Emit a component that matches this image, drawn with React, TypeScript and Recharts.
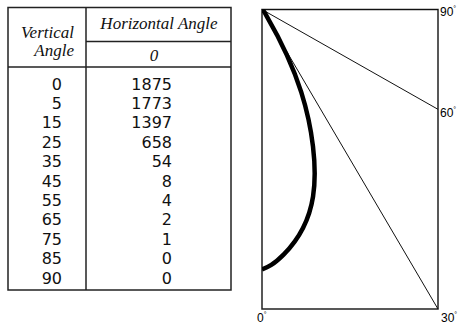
import React from 'react';
import { LineChart, Line, XAxis, YAxis, ReferenceArea, ReferenceLine, ReferenceDot } from 'recharts';

// ---- data ----
const verticalAngles = [0, 5, 15, 25, 35, 45, 55, 65, 75, 85, 90];
const candela = [1875, 1773, 1397, 658, 54, 8, 4, 2, 1, 0, 0];
const horizontalAngles = [0];
const guideAngles = [30, 60, 90];
const cornerLabels = ['0', '30', '60', '90'];

const YMAX = 2160;
const XMAX = YMAX * Math.tan((30 * Math.PI) / 180);

const rad = (d: number) => (d * Math.PI) / 180;

const curve = verticalAngles.map((a, i) => ({
  x: candela[i] * Math.sin(rad(a)),
  y: candela[i] * Math.cos(rad(a)),
}));

const guideEnd = (a: number) => {
  const s = Math.sin(rad(a));
  const c = Math.cos(rad(a));
  const t = Math.min(s > 0 ? XMAX / s : Infinity, c > 1e-9 ? YMAX / c : Infinity);
  return { x: s * t, y: c * t };
};

const SANS = '"DejaVu Sans", sans-serif';
const LSANS = '"Liberation Sans", Arial, sans-serif';
const SERIF = '"Liberation Serif", "Times New Roman", serif';

const rowY = (i: number) => 83.5 + i * 19.4;

const Table = () => (
  <svg width={240} height={324} style={{ position: 'absolute', left: 0, top: 0 }}>
    <g stroke="#222" strokeWidth={1.5} fill="none">
      <rect x={8} y={7.5} width={223} height={282.5} />
      <line x1={86} y1={7.5} x2={86} y2={290} />
      <line x1={86} y1={41.5} x2={231} y2={41.5} />
      <line x1={8} y1={67} x2={231} y2={67} />
    </g>
    <g fontFamily={SERIF} fontStyle="italic" fontSize={17} fill="#111">
      <text x={74} y={38} textAnchor="end">Vertical</text>
      <text x={74} y={56} textAnchor="end">Angle</text>
      <text x={159} y={29} textAnchor="middle">Horizontal Angle</text>
      {horizontalAngles.map((h) => (
        <text key={h} x={154} y={61} textAnchor="middle">{h}</text>
      ))}
    </g>
    <g fontFamily={SANS} fontSize={16} fill="#111">
      {verticalAngles.map((a, i) => (
        <text key={'a' + a} x={62} y={rowY(i) + 6} textAnchor="end">{a}</text>
      ))}
      {candela.map((c, i) => (
        <text key={'c' + i} x={172} y={rowY(i) + 6} textAnchor="end">{c}</text>
      ))}
    </g>
  </svg>
);

const degShape = (label: string, dx: number, dy: number) => (p: any) => (
  <text x={p.cx + dx} y={p.cy + dy} fontFamily={LSANS} fontSize={12} fill="#000" stroke="none">
    {label}
    <tspan fontSize={7} dy={-5}>°</tspan>
  </text>
);

const labelPoints = [
  { label: cornerLabels[0], x: 0, y: YMAX, dx: -5, dy: 13 },
  { label: cornerLabels[1], x: XMAX, y: YMAX, dx: 3, dy: 13 },
  { label: cornerLabels[2], x: guideEnd(guideAngles[1]).x, y: guideEnd(guideAngles[1]).y, dx: 2, dy: 8 },
  { label: cornerLabels[3], x: XMAX, y: 0, dx: 2, dy: 6 },
];

export default function App() {
  return (
    <div style={{ position: 'absolute', left: 0, top: 0, width: 460, height: 324, background: '#fff' }}>
      <Table />
      <div style={{ position: 'absolute', left: 0, top: 0 }}>
        <LineChart width={460} height={324} data={curve} margin={{ top: 9.5, left: 262, right: 22, bottom: 15 }}>
          <XAxis type="number" dataKey="x" domain={[0, XMAX]} hide allowDataOverflow />
          <YAxis type="number" dataKey="y" domain={[0, YMAX]} reversed hide allowDataOverflow />
          <ReferenceArea x1={0} x2={XMAX} y1={0} y2={YMAX} fill="none" fillOpacity={0} stroke="#222" strokeWidth={1.5} ifOverflow="visible" />
          {guideAngles.map((a) => (
            <ReferenceLine key={a} segment={[{ x: 0, y: 0 }, guideEnd(a)]} stroke="#111" strokeWidth={1} ifOverflow="visible" />
          ))}
          <Line type="natural" dataKey="y" stroke="#000" strokeWidth={4.5} dot={false} isAnimationActive={false} />
          {labelPoints.map((l) => (
            <ReferenceDot key={l.label} x={l.x} y={l.y} r={0} ifOverflow="visible" shape={degShape(l.label, l.dx, l.dy)} />
          ))}
        </LineChart>
      </div>
    </div>
  );
}
